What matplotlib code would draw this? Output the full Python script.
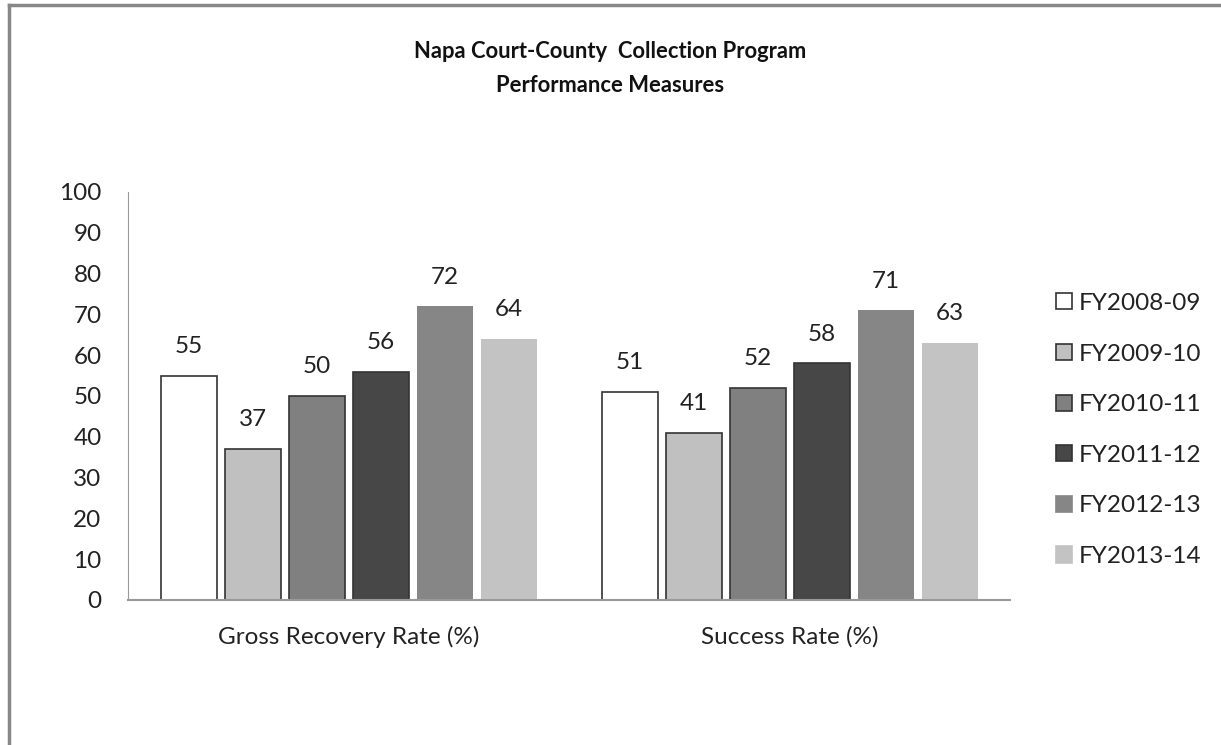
import matplotlib.pyplot as plt
from matplotlib.patches import Rectangle
from matplotlib.lines import Line2D
import numpy as np

categories = ["Gross Recovery Rate (%)", "Success Rate (%)"]
years = ["FY2008-09", "FY2009-10", "FY2010-11", "FY2011-12", "FY2012-13", "FY2013-14"]
values = [
    [55, 51],
    [37, 41],
    [50, 52],
    [56, 58],
    [72, 71],
    [64, 63],
]
colours = ["#ffffff", "#c0c0c0", "#808080", "#474747", "#868686", "#c3c3c3"]
edges = ["#333333", "#333333", "#333333", "#333333", "none", "none"]

plt.rcParams['font.family'] = ['Lato', 'DejaVu Sans']
FS = 17.5

fig = plt.figure(figsize=(12.21, 7.45), dpi=100)
ax = fig.add_axes([128 / 1221, 1 - 600 / 745, 882 / 1221, 408 / 745])

x = np.arange(len(categories))
step = 64 / 441
width = 56 / 441
for i, year in enumerate(years):
    pos = x + (i - 2.5) * step
    bars = ax.bar(pos, values[i], width, color=colours[i],
                  edgecolor=edges[i], linewidth=1.2, label=year)
    for b, v in zip(bars, values[i]):
        ax.annotate(str(v), (b.get_x() + b.get_width() / 2, v),
                    xytext=(0, 21), textcoords='offset points',
                    ha='center', va='center', fontsize=FS, color='#222222')

ax.set_xlim(-0.5, 1.5)
ax.set_ylim(0, 100)
ax.set_yticks(range(0, 101, 10))
ax.set_xticks(x)
ax.set_xticklabels(categories)
ax.tick_params(axis='both', length=0, labelsize=FS, colors='#222222')
ax.tick_params(axis='y', pad=19)
ax.tick_params(axis='x', pad=19)
for s in ['top', 'right']:
    ax.spines[s].set_visible(False)
ax.spines['left'].set_color('#999999')
ax.spines['bottom'].set_color('#999999')
ax.spines['bottom'].set_linewidth(1.5)

handles = [Rectangle((0, 0), 1, 1, facecolor=c,
                     edgecolor=(e if e != 'none' else c), linewidth=1.2)
           for c, e in zip(colours, edges)]
leg = fig.legend(handles, years, loc='upper left',
                 bbox_to_anchor=(1034 / 1221, 1 - 271 / 745),
                 frameon=False, fontsize=FS, handlelength=0.65,
                 handleheight=0.65, handletextpad=0.3, labelspacing=1.22)
for t in leg.get_texts():
    t.set_color('#222222')

fig.text(0.5, 1 - 52 / 745, "Napa Court-County  Collection Program",
         ha='center', va='center', fontsize=15.8, fontweight='bold', color='#111111')
fig.text(0.5, 1 - 85 / 745, "Performance Measures",
         ha='center', va='center', fontsize=15.8, fontweight='bold', color='#111111')

# outer chart border (right and bottom run off the picture)
fig.add_artist(Line2D([9 / 1221, 9 / 1221], [0, 1 - 5 / 745],
                      transform=fig.transFigure, color='#888888', linewidth=2.5))
fig.add_artist(Line2D([9 / 1221, 1], [1 - 5 / 745, 1 - 5 / 745],
                      transform=fig.transFigure, color='#888888', linewidth=2.5))

fig.savefig("out.png", dpi=100)
